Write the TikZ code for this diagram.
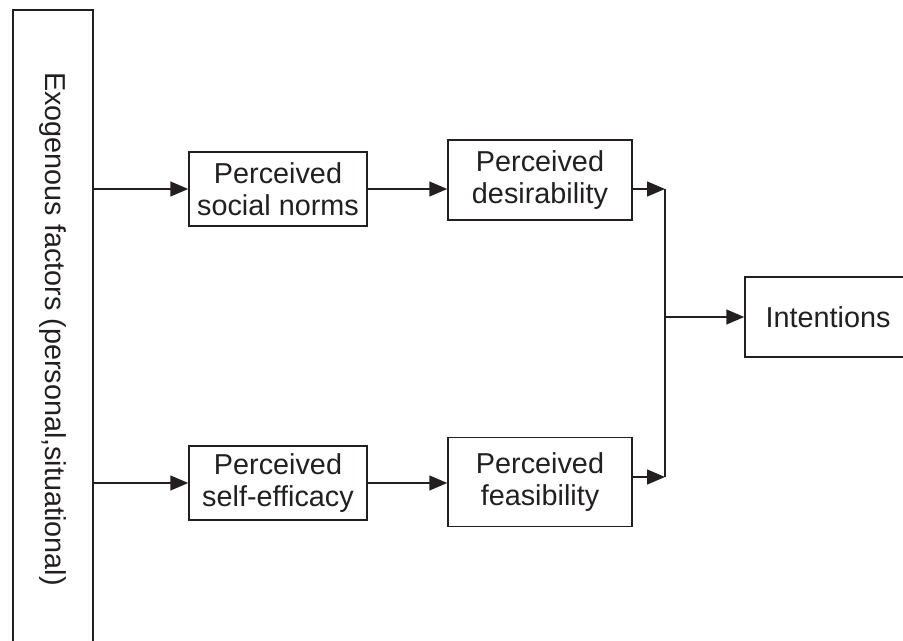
\documentclass[tikz,border=0pt]{standalone}
\usepackage{fontspec}
\setmainfont{Liberation Sans}
\usetikzlibrary{arrows.meta}
\definecolor{ink}{HTML}{231F20}
\begin{document}
\begin{tikzpicture}[x=0.5pt,y=-0.5pt,
  box/.style={draw=ink, line width=0.75pt, inner sep=0pt, align=center, text=ink,
    font=\fontsize{14.4}{15.9}\selectfont},
  lbl/.style={text=ink, inner sep=0pt, font=\fontsize{14.4}{15.9}\selectfont},
  arr/.style={draw=ink, line width=0.75pt, -{Triangle[length=9pt,width=7.5pt]}},
  ln/.style={draw=ink, line width=0.75pt}]
\useasboundingbox (0,0) rectangle (903,641);
\clip (0,0) rectangle (903,641);
\node[box, minimum width=40pt, minimum height=319pt] (exo) at (53,329) {};
\node[lbl, rotate=-90] (exotext) at (53,329) {Exogenous factors (personal,situational)};
\node[box, minimum width=89pt, minimum height=37pt] (sn) at (278,189) {Perceived\\social norms};
\node[box, minimum width=92pt, minimum height=40pt] (des) at (540,180) {Perceived\\desirability};
\node[box, minimum width=89pt, minimum height=37pt] (se) at (278,483) {Perceived\\self-efficacy};
\node[box, minimum width=92pt, minimum height=44.5pt] (fea) at (540,482) {Perceived\\feasibility};
\node[box, minimum width=83pt, minimum height=40pt] (int) at (828,317) {Intentions};
\coordinate (jt) at (665,189);
\coordinate (jb) at (665,477);
\coordinate (jm) at (665,317);
\draw[arr] (exo.east |- sn.west) -- (sn.west);
\draw[arr] (exo.east |- se.west) -- (se.west);
\draw[arr] (sn.east) -- (sn.east -| des.west);
\draw[arr] (se.east) -- (se.east -| fea.west);
\draw[arr] (des.east |- jt) -- (jt);
\draw[arr] (fea.east |- jb) -- (jb);
\draw[ln] (jt) -- (jb);
\draw[arr] (jm) -- (int.west);
\end{tikzpicture}
\end{document}
